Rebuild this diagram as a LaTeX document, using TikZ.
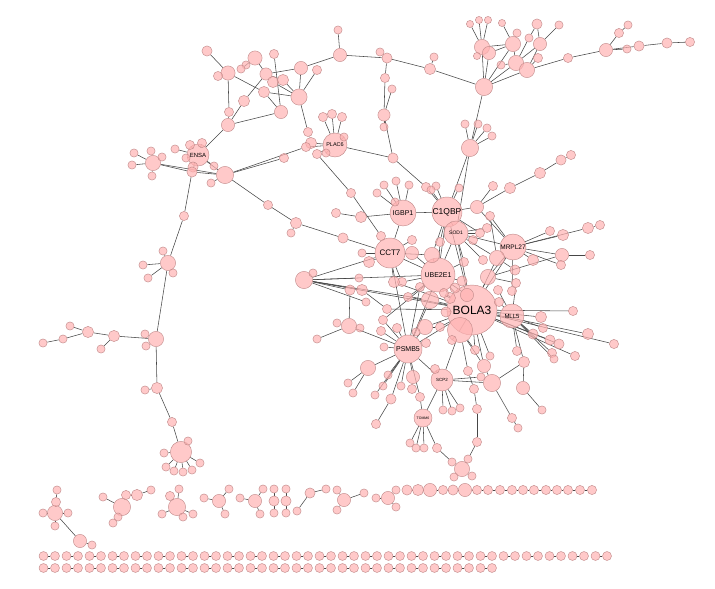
\documentclass[tikz,border=0pt]{standalone}
\usepackage{fontspec}
\setmainfont{Liberation Sans}
\usetikzlibrary{backgrounds}
\definecolor{nfill}{RGB}{255,178,178}
\definecolor{ndraw}{RGB}{195,140,140}
\definecolor{ecol}{RGB}{70,70,70}
\begin{document}
\begin{tikzpicture}[x=1pt,y=-1pt,
  nd/.style={circle,fill=nfill,fill opacity=0.7,draw=ndraw,line width=0.45pt,inner sep=0pt,text opacity=1},
  lab/.style={inner sep=0pt,text=black},
  edge/.style={draw=ecol,line width=0.55pt}]
\useasboundingbox (0,0) rectangle (715,589);
% ---------- hubs
\foreach \n/\x/\y/\d in {BOLA/472/310/50, C1Q/447/212/30, IGB/403/213/26, SOD/456/233/24,
 CCT/390/253/30, UBE/438/275/34, MRP/513/247/26, MLL/512/316/24, PSM/408/349/28,
 SCP/442/380/22, TOM/423/418/18, PLAC/335/145/24, ENSA/198/155/22}
 {\node[nd,minimum size=\d pt] (\n) at (\x,\y) {};}
% ---------- plain nodes
\foreach \n/\x/\y/\d in {
 SGP/460/330/24, HAT/462/469/14, LRRK/484/87/16, SV/470/148/16, PPA/225/175/16,
 a1/207/51/9, a2/228/73/13, a3/255/58/13, a4/274/54/8, a5/246/65/7, a6/241/69/7, a7/218/76/8,
 a8/266/74/11, a9/273/82/10, a10/283/80/10, a11/301/68/12, a12/317/70/8, a13/340/55/12,
 a14/264/92/10, a15/244/101/10, a16/299/97/15, a17/281/112/12, a18/229/112/8, a19/228/125/12,
 a20/308/132/8, a21/311/143/10, a22/306/147/8, a23/323/117/8, a24/332/114/8, a25/342/117/8,
 a26/344/137/7, a27/317/154/8, a28/326/153/7, a29/284/158/8, a30/338/30/7, a31/380/52/7,
 a32/387/58/9, a33/385/78/8, a34/392/89/7, a35/384/115/11, a36/384/127/7, a37/393/158/9,
 a38/430/69/10, a39/434/57/7, a40/426/187/8, a41/436/186/7,
 sv1/465/124/7, sv2/478/124/7, sv3/487/128/7, sv4/492/136/7,
 b1/482/47/14, b2/489/53/12, b3/513/44/14, b4/516/63/14, b5/527/70/14, b6/540/44/12,
 b7/537/24/9, b8/559/25/7, b9/529/38/7, b10/517/33/7, b11/538/58/8, b12/501/65/7,
 b13/477/56/6, b14/470/24/6, b15/479/20/6, b16/488/20/6, b17/502/23/6, b18/568/58/8,
 b19/606/50/12, b20/619/33/8, b21/628/25/7, b22/627/49/7, b23/639/46/9, b24/667/43/9, b25/690/42/8,
 L1/153/163/14, L2/134/153/7, L3/151/151/7, L4/162/157/7, L5/132/165/7, L6/152/176/7,
 L7/175/149/7, L8/190/145/8, L9/202/143/8, L10/186/158/7, L11/193/167/9, L12/192/172/9,
 L13/214/166/7, L14/211/183/7, L15/184/216/8, L16/168/263/14, L17/163/251/7, L18/143/265/7,
 L19/148/278/7, L20/173/273/7, L21/156/339/14, L22/145/334/7, L23/146/346/7, L24/114/336/10,
 L25/101/349/7, L26/88/332/10, L27/70/326/7, L28/63/339/7, L29/43/343/7, L30/157/388/10,
 L31/145/390/7, L32/172/422/8, L33/181/452/20, L34/188/441/7, L35/164/453/7, L36/166/467/7,
 L37/174/471/7, L38/183/472/7, L39/192/470/7, L40/200/463/7,
 m0/268/205/8, m1/432/255/14, m2/412/253/12, m3/430/300/16, m4/402/282/8, m5/408/297/8,
 m6/497/258/14, m7/488/277/14, m8/477/207/12, m9/487/228/8, m10/480/233/8, m11/473/240/8,
 m12/464/262/8, m13/483/260/8, m14/440/242/8, m15/412/240/8, m16/425/327/14, m17/440/327/8,
 m18/383/320/8, m19/467/295/12, m20/450/298/10, m21/455/288/9, m22/420/287/8, m23/446/312/9,
 m24/384/185/7, m25/396/181/7, m26/377/193/7, m27/395/202/7, m28/409/185/7, m29/431/190/7,
 m30/459/188/7, m31/351/193/8, m32/336/213/8, m33/361/217/10, m34/296/223/10, m35/291/233/7,
 m36/343/238/9, m37/381/236/8, m38/362/253/7, m39/369/262/10, m40/304/280/16, m41/313/273/7,
 m42/350/290/9, m43/362/290/10, m44/359/278/7, m45/366/302/7, m46/394/282/10, m47/387/309/8,
 m49/349/326/14, m50/337/323/7, m51/317/339/7, m52/360/328/7, m54/397/328/8, m55/381/331/8,
 m56/384/347/7, m57/416/332/7, m59/368/368/14, m60/348/383/7, m61/353/393/7, m62/413/377/12,
 m63/412/389/8, m64/401/386/7, m65/388/375/7, m66/383/386/7, m67/375/395/7, m68/391/399/9,
 m69/376/424/8, m70/420/397/8, m71/435/369/8, m72/426/343/8, m73/443/410/7, m74/452/411/7,
 m75/460/408/7, m76/410/443/7, m77/416/448/7, m78/424/448/7, m79/437/448/8, m80/452/462/7,
 m81/468/459/7, m82/454/477/7, m83/472/476/7, m84/477/442/8, m85/477/409/8, m86/474/389/8,
 m87/468/371/8, m88/484/366/12, m89/481/377/7, m90/492/383/16, m91/490/356/7, m92/475/350/8,
 m93/524/362/10, m94/523/388/12, m95/542/410/7, m96/512/418/8, m97/518/428/7, m98/517/351/8,
 m99/541/317/10, m100/573/311/8, m101/543/328/8, m102/533/334/9, m103/588/334/10, m104/614/344/8,
 m105/550/340/9, m106/559/344/9, m107/575/356/8, m108/552/353/8, m109/554/359/7,
 m110/550/231/8, m111/563/235/10, m112/588/228/10, m113/600/225/8, m114/562/255/12, m115/590/255/8,
 m116/561/265/8, m117/533/260/10, m118/515/270/9, m119/516/283/8, m120/512/291/8, m121/498/290/8,
 m122/510/188/10, m123/493/186/8, m124/540/173/10, m125/561/160/9, m126/571/155/8, m127/490/216/8,
 m130/462/281/9, m131/499/302/8, m132/444/293/8, m133/452/340/8,
 B1/55/513/14, B2/57/490/7, B3/56/502/8, B4/43/513/7, B5/68/513/7, B6/55/526/7, B7/80/541/12, B8/92/545/7,
 B9/122/507/16, B10/103/497/7, B11/126/495/8, B12/137/495/10, B13/151/490/7, B14/118/517/7, B15/113/523/7,
 B16/177/507/16, B17/170/496/8, B18/179/489/7, B19/162/514/7, B20/183/517/7, B21/193/514/7,
 B22/219/501/12, B23/204/498/7, B24/229/489/7, B25/225/514/7,
 B26/255/501/12, B27/240/498/7, B28/263/489/7, B29/260/514/7,
 B30/274/501/9, B31/274/489/7, B32/274/513/7, B33/286/501/9, B34/286/489/7, B35/286/513/7,
 B36/310/493/9, B37/326/489/7, B38/297/511/7, B39/337/490/7, B40/344/500/12, B41/337/510/7, B42/364/493/7,
 B43/388/498/12, B44/376/498/7, B45/396/490/7, B46/396/507/7,
 C1/407/490/9, C2/418/490/10, C3/430/490/12, C4/443/490/8, C5/453/490/9, C6/465/490/12,
 C7/477/490/8, C8/488/490/8, C9/500/490/8, C10/512/490/8, C11/523/490/8, C12/534/490/8,
 C13/546/490/8, C14/557/490/8, C15/568/490/8, C16/580/490/8, C17/592/490/8}
 {\node[nd,minimum size={\d pt+1.2pt}] (\n) at (\x,\y) {};}
% rows of pairs
\foreach \k in {0,...,24}{
  \node[nd,minimum size=9pt] (P\k a) at ({43.5+23*\k},556) {};
  \node[nd,minimum size=9pt] (P\k b) at ({55+23*\k},556) {};}
\foreach \k in {0,...,19}{
  \node[nd,minimum size=9pt] (Q\k a) at ({43.5+23*\k},568) {};
  \node[nd,minimum size=9pt] (Q\k b) at ({55+23*\k},568) {};}
% ---------- hub labels (on top)
\node[lab,font=\fontsize{12}{12}\selectfont] (tBOLA) at (BOLA) {BOLA3};
\node[lab,font=\fontsize{8.5}{8.5}\selectfont] (tC1Q) at (C1Q) {C1QBP};
\node[lab,font=\fontsize{7}{7}\selectfont] (tIGB) at (IGB) {IGBP1};
\node[lab,font=\fontsize{5}{5}\selectfont] (tSOD) at (SOD) {SOD1};
\node[lab,font=\fontsize{8}{8}\selectfont] (tCCT) at (CCT) {CCT7};
\node[lab,font=\fontsize{7}{7}\selectfont] (tUBE) at (UBE) {UBE2E1};
\node[lab,font=\fontsize{6.5}{6.5}\selectfont] (tMRP) at (MRP) {MRPL27};
\node[lab,font=\fontsize{6}{6}\selectfont] (tMLL) at (MLL) {MLL5};
\node[lab,font=\fontsize{7}{7}\selectfont] (tPSM) at (PSM) {PSMB5};
\node[lab,font=\fontsize{4.5}{4.5}\selectfont] (tSCP) at (SCP) {SCP2};
\node[lab,font=\fontsize{3.5}{3.5}\selectfont] (tTOM) at (TOM) {TOMM6};
\node[lab,font=\fontsize{5.5}{5.5}\selectfont] (tPLAC) at (PLAC) {PLAC6};
\node[lab,font=\fontsize{6}{6}\selectfont] (tENSA) at (ENSA) {ENSA};
% ---------- edges
\begin{scope}[on background layer]
\foreach \k in {0,...,24}{\draw[edge] (P\k a) -- (P\k b);}
\foreach \k in {0,...,19}{\draw[edge] (Q\k a) -- (Q\k b);}
\foreach \a/\b in {
 a1/a2, a2/a7, a2/a14, a2/a18, a14/a16, a3/a8, a3/a5, a3/a6, a8/a15, a8/a11, a8/a10, a4/a17,
 a9/a16, a10/a16, a11/a16, a12/a16, a15/a19, a17/a19, a18/a19, a17/a14, a16/a20, a20/a21,
 a11/a13, a13/a30, a13/a32, a32/a31, a32/a38, a38/a39, a38/LRRK, a32/a33, a33/a35, a35/a34,
 a35/a36, a35/a37, a37/PLAC, PLAC/a21, PLAC/a22, PLAC/a23, PLAC/a24, PLAC/a25, PLAC/a26,
 PLAC/a27, PLAC/a28, a37/a40, a40/C1Q, a41/C1Q, a19/ENSA, a27/m31, a29/PPA, a22/PPA,
 LRRK/b1, LRRK/b2, LRRK/b4, LRRK/b5, LRRK/b3, b1/b14, b1/b15, b1/b16, b1/b13, b3/b17, b1/b3,
 b2/b3, b3/b10, b3/b4, b4/b9, b4/b12, b4/b6, b9/b7, b6/b7, b5/b6, b5/b11, b6/b8, b5/b18,
 b18/b19, b19/b20, b20/b21, b19/b22, b19/b23, b23/b24, b24/b25, LRRK/SV, SV/sv1, SV/sv2,
 SV/sv3, SV/sv4, SV/C1Q, SV/SOD,
 L1/L2, L1/L3, L1/L4, L1/L5, L1/L6, L1/L12, L1/PPA, ENSA/L7, ENSA/L8, ENSA/L9, ENSA/L10,
 ENSA/L11, ENSA/L13, ENSA/L12, L12/PPA, PPA/L14, ENSA/PPA, L12/L15, L15/L16, L16/L17, L16/L18,
 L16/L19, L16/L20, L16/L21, L21/L22, L21/L23, L21/L24, L24/L25, L24/L26, L26/L27, L26/L28,
 L28/L29, L21/L30, L30/L31, L30/L32, L32/L33, L33/L34, L33/L35, L33/L36, L33/L37, L33/L38,
 L33/L39, L33/L40, PPA/m0,
 IGB/m24, IGB/m25, IGB/m26, IGB/m27, IGB/m28, m31/m37, m37/CCT, m32/m33, m33/IGB, m36/CCT,
 m34/m36, m0/m34, m34/m35,
 C1Q/m29, C1Q/m30, C1Q/m8, C1Q/SOD, C1Q/IGB, C1Q/UBE, C1Q/m1, C1Q/m14, C1Q/BOLA, C1Q/m10,
 CCT/m2, CCT/m15, CCT/m38, CCT/m39, CCT/m4, CCT/m40, CCT/UBE, CCT/IGB, CCT/m1, CCT/m46,
 UBE/m1, UBE/m2, UBE/m3, UBE/m4, UBE/m5, UBE/m12, UBE/m14, UBE/m22, UBE/m20, UBE/m21,
 UBE/BOLA, UBE/PSM, UBE/SOD, UBE/m130, UBE/m132,
 SOD/m11, SOD/m10, SOD/m9, SOD/m12, SOD/m13, SOD/m6, SOD/MRP, SOD/BOLA,
 MRP/m110, MRP/m111, MRP/m112, m112/m113, MRP/m114, m114/m115, MRP/m116, MRP/m117, MRP/m6,
 MRP/m7, MRP/m8, MRP/BOLA, m6/m118, m6/m127, m127/MRP, MRP/m120, m8/m123, m8/m122,
 m122/m124, m124/m125, m125/m126, m7/m114, m7/m119, m7/BOLA, m6/BOLA,
 BOLA/MLL, BOLA/m99, BOLA/m100, BOLA/m103, BOLA/m104, BOLA/m105, BOLA/m106, BOLA/m107,
 MLL/m101, MLL/m102, MLL/m108, MLL/m109, MLL/m98, MLL/m93, MLL/m119, MLL/m121, MLL/m131,
 BOLA/SGP, SGP/SCP, SGP/m92, SGP/m88, SGP/m87, SGP/m133,
 SCP/m73, SCP/m74, SCP/m75, SCP/m71, SCP/TOM, SCP/m90, SCP/m89,
 m90/m88, m90/m93, m93/m94, m94/m95, m90/m96, m96/m97,
 TOM/m76, TOM/m77, TOM/m78, TOM/m79, TOM/m70, m79/m80, m80/HAT, HAT/m81, HAT/m82, HAT/m83,
 m81/m84, m84/m85, m85/m86, m86/m87,
 m49/m50, m49/m51, m49/m52, PSM/m49, PSM/m59, m59/m60, m59/m61, PSM/m62, m62/m63, PSM/m64,
 PSM/m65, PSM/m66, PSM/m67, PSM/m68, m68/m69, PSM/m70, PSM/SCP, PSM/m72, PSM/m54, PSM/m55,
 PSM/m56, PSM/m18, PSM/BOLA, PSM/CCT, PSM/m3,
 m40/m41, m40/m42, m40/m43, m40/m44, m40/m45, m40/UBE, m40/BOLA, m40/m3, m42/m49, m43/m47,
 m16/PSM, m16/BOLA, m16/m57, m16/m17, m3/BOLA, m19/BOLA, m19/UBE, m20/BOLA, m21/BOLA,
 m23/BOLA, m22/PSM, m92/BOLA, m91/BOLA, m88/BOLA, m130/BOLA, m132/BOLA, m46/BOLA, m47/BOLA,
 m18/UBE, m5/BOLA, m131/BOLA, m17/BOLA,
 B1/B3, B2/B3, B1/B4, B1/B5, B1/B6, B1/B7, B7/B8, B9/B10, B9/B11, B11/B12, B12/B13,
 B9/B14, B14/B15, B16/B17, B16/B18, B16/B19, B16/B20, B16/B21, B22/B23, B22/B24, B22/B25,
 B26/B27, B26/B28, B26/B29, B30/B31, B30/B32, B33/B34, B33/B35, B36/B37, B36/B38,
 B40/B39, B40/B41, B40/B42, B43/B44, B43/B45, B43/B46,
 C1/C2, C2/C3, C3/C4, C4/C5, C5/C6, C6/C7, C7/C8, C8/C9, C9/C10, C10/C11, C11/C12,
 C12/C13, C13/C14, C14/C15, C15/C16, C16/C17}
 {\draw[edge] (\a) -- (\b);}
\end{scope}
\end{tikzpicture}
\end{document}
